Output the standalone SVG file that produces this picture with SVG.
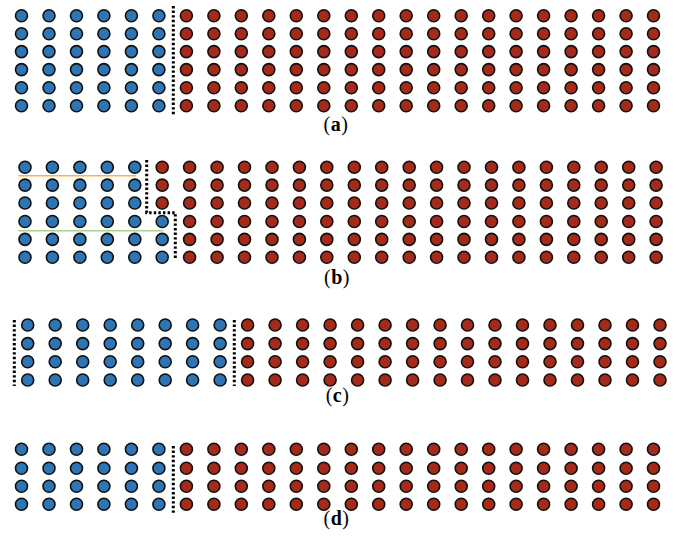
<svg xmlns="http://www.w3.org/2000/svg" xmlns:xlink="http://www.w3.org/1999/xlink" width="676" height="538" viewBox="0 0 676 538">
<style>
.b{fill:#2e75b6;stroke:#111;stroke-width:1.6}
.r{fill:#a52a1a;stroke:#111;stroke-width:1.6}
.d{fill:none;stroke:#000;stroke-width:3;stroke-dasharray:2.4 2.2}
.lab{font-family:"Liberation Serif","Times New Roman",serif;font-size:20px;fill:#000;text-anchor:middle;letter-spacing:0.5px}
</style>
<defs>
<g id="aBlue">
<circle class="b" cx="21.5" cy="0" r="6"/><circle class="b" cx="49" cy="0" r="6"/><circle class="b" cx="76.5" cy="0" r="6"/><circle class="b" cx="103.9" cy="0" r="6"/><circle class="b" cx="131.4" cy="0" r="6"/><circle class="b" cx="158.9" cy="0" r="6"/>
</g>
<g id="aRed">
<circle class="r" cx="186.4" cy="0" r="6"/><circle class="r" cx="213.9" cy="0" r="6"/><circle class="r" cx="241.3" cy="0" r="6"/><circle class="r" cx="268.8" cy="0" r="6"/><circle class="r" cx="296.3" cy="0" r="6"/><circle class="r" cx="323.8" cy="0" r="6"/><circle class="r" cx="351.3" cy="0" r="6"/><circle class="r" cx="378.7" cy="0" r="6"/><circle class="r" cx="406.2" cy="0" r="6"/><circle class="r" cx="433.7" cy="0" r="6"/><circle class="r" cx="461.2" cy="0" r="6"/><circle class="r" cx="488.7" cy="0" r="6"/><circle class="r" cx="516.1" cy="0" r="6"/><circle class="r" cx="543.6" cy="0" r="6"/><circle class="r" cx="571.1" cy="0" r="6"/><circle class="r" cx="598.6" cy="0" r="6"/><circle class="r" cx="626.1" cy="0" r="6"/><circle class="r" cx="653.5" cy="0" r="6"/>
</g>
<g id="bBlue">
<circle class="b" cx="25" cy="0" r="6"/><circle class="b" cx="52.4" cy="0" r="6"/><circle class="b" cx="79.9" cy="0" r="6"/><circle class="b" cx="107.3" cy="0" r="6"/><circle class="b" cx="134.8" cy="0" r="6"/>
</g>
<g id="bRed">
<circle class="r" cx="189.6" cy="0" r="6"/><circle class="r" cx="217.1" cy="0" r="6"/><circle class="r" cx="244.5" cy="0" r="6"/><circle class="r" cx="272" cy="0" r="6"/><circle class="r" cx="299.4" cy="0" r="6"/><circle class="r" cx="326.8" cy="0" r="6"/><circle class="r" cx="354.3" cy="0" r="6"/><circle class="r" cx="381.7" cy="0" r="6"/><circle class="r" cx="409.2" cy="0" r="6"/><circle class="r" cx="436.6" cy="0" r="6"/><circle class="r" cx="464" cy="0" r="6"/><circle class="r" cx="491.5" cy="0" r="6"/><circle class="r" cx="518.9" cy="0" r="6"/><circle class="r" cx="546.4" cy="0" r="6"/><circle class="r" cx="573.8" cy="0" r="6"/><circle class="r" cx="601.2" cy="0" r="6"/><circle class="r" cx="628.7" cy="0" r="6"/><circle class="r" cx="656.1" cy="0" r="6"/>
</g>
<g id="cBlue">
<circle class="b" cx="27.7" cy="0" r="6"/><circle class="b" cx="55.2" cy="0" r="6"/><circle class="b" cx="82.7" cy="0" r="6"/><circle class="b" cx="110.2" cy="0" r="6"/><circle class="b" cx="137.7" cy="0" r="6"/><circle class="b" cx="165.2" cy="0" r="6"/><circle class="b" cx="192.6" cy="0" r="6"/><circle class="b" cx="220.1" cy="0" r="6"/>
</g>
<g id="cRed">
<circle class="r" cx="247.6" cy="0" r="6"/><circle class="r" cx="275.1" cy="0" r="6"/><circle class="r" cx="302.6" cy="0" r="6"/><circle class="r" cx="330.1" cy="0" r="6"/><circle class="r" cx="357.6" cy="0" r="6"/><circle class="r" cx="385.1" cy="0" r="6"/><circle class="r" cx="412.6" cy="0" r="6"/><circle class="r" cx="440.1" cy="0" r="6"/><circle class="r" cx="467.5" cy="0" r="6"/><circle class="r" cx="495" cy="0" r="6"/><circle class="r" cx="522.5" cy="0" r="6"/><circle class="r" cx="550" cy="0" r="6"/><circle class="r" cx="577.5" cy="0" r="6"/><circle class="r" cx="605" cy="0" r="6"/><circle class="r" cx="632.5" cy="0" r="6"/><circle class="r" cx="660" cy="0" r="6"/>
</g>
</defs>
<rect width="676" height="538" fill="#fff"/>

<g id="panel-a">
<use xlink:href="#aBlue" y="15.8"/><use xlink:href="#aRed" y="15.8"/>
<use xlink:href="#aBlue" y="33.8"/><use xlink:href="#aRed" y="33.8"/>
<use xlink:href="#aBlue" y="51.6"/><use xlink:href="#aRed" y="51.6"/>
<use xlink:href="#aBlue" y="69.6"/><use xlink:href="#aRed" y="69.6"/>
<use xlink:href="#aBlue" y="87.7"/><use xlink:href="#aRed" y="87.7"/>
<use xlink:href="#aBlue" y="105.8"/><use xlink:href="#aRed" y="105.8"/>
<text class="lab" x="336" y="131">(<tspan font-weight="bold">a</tspan>)</text>
</g>

<g id="panel-b">
<use xlink:href="#bBlue" y="167.3"/><use xlink:href="#bRed" y="167.3"/><circle class="r" cx="162.2" cy="167.3" r="6"/>
<use xlink:href="#bBlue" y="185.1"/><use xlink:href="#bRed" y="185.1"/><circle class="r" cx="162.2" cy="185.1" r="6"/>
<use xlink:href="#bBlue" y="203"/><use xlink:href="#bRed" y="203"/><circle class="r" cx="162.2" cy="203" r="6"/>
<use xlink:href="#bBlue" y="221.5"/><use xlink:href="#bRed" y="221.5"/><circle class="b" cx="162.2" cy="221.5" r="6"/>
<use xlink:href="#bBlue" y="239.4"/><use xlink:href="#bRed" y="239.4"/><circle class="b" cx="162.2" cy="239.4" r="6"/>
<use xlink:href="#bBlue" y="257.3"/><use xlink:href="#bRed" y="257.3"/><circle class="b" cx="162.2" cy="257.3" r="6"/>
<line x1="18.3" y1="175.8" x2="136" y2="175.8" stroke="#f2b451" stroke-width="1.5"/>
<line x1="18.3" y1="230.7" x2="163.3" y2="230.7" stroke="#a6d48e" stroke-width="1.5"/>
<text class="lab" x="337" y="284">(<tspan font-weight="bold">b</tspan>)</text>
</g>

<g id="panel-c">
<use xlink:href="#cBlue" y="325"/><use xlink:href="#cRed" y="325"/>
<use xlink:href="#cBlue" y="343.6"/><use xlink:href="#cRed" y="343.6"/>
<use xlink:href="#cBlue" y="361.8"/><use xlink:href="#cRed" y="361.8"/>
<use xlink:href="#cBlue" y="380"/><use xlink:href="#cRed" y="380"/>
<text class="lab" x="337.5" y="402">(<tspan font-weight="bold">c</tspan>)</text>
</g>

<g id="panel-d">
<use xlink:href="#aBlue" y="449.3"/><use xlink:href="#aRed" y="449.3"/>
<use xlink:href="#aBlue" y="468.2"/><use xlink:href="#aRed" y="468.2"/>
<use xlink:href="#aBlue" y="486.3"/><use xlink:href="#aRed" y="486.3"/>
<use xlink:href="#aBlue" y="504.2"/><use xlink:href="#aRed" y="504.2"/>
<text class="lab" x="336.5" y="525">(<tspan font-weight="bold">d</tspan>)</text>
</g>

<g id="connectors">
<line class="d" x1="173.3" y1="6" x2="173.3" y2="116"/>
<polyline class="d" points="146.7,160 146.7,212.7 175.3,212.7 175.3,260"/>
<line class="d" x1="14.3" y1="320" x2="14.3" y2="386"/>
<line class="d" x1="234.3" y1="320" x2="234.3" y2="386"/>
<line class="d" x1="173.3" y1="446" x2="173.3" y2="512.7"/>
</g>
</svg>
